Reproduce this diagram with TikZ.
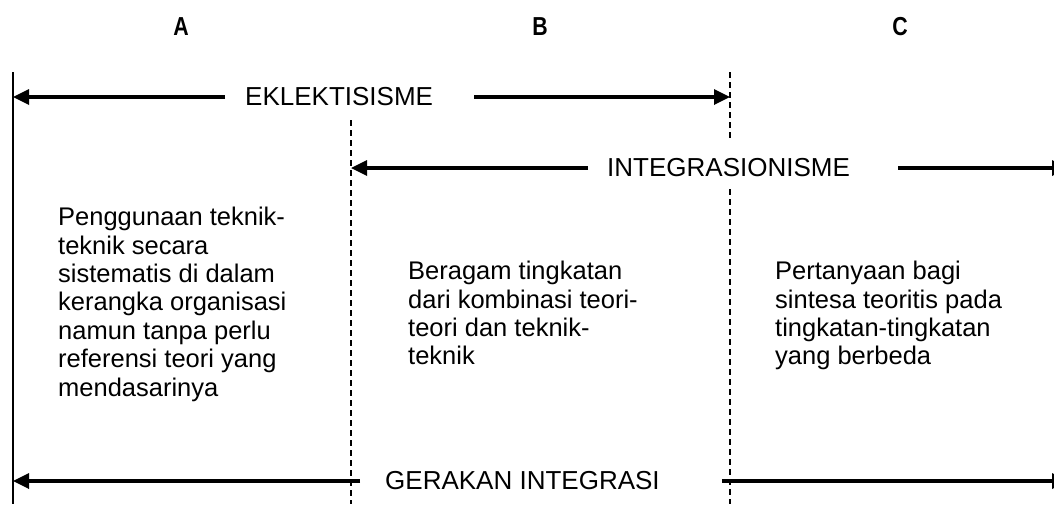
\documentclass[tikz,border=0pt]{standalone}
\usepackage{fontspec}
\setmainfont{Liberation Sans}
\usepackage{graphicx}
\usetikzlibrary{arrows.meta}
\begin{document}
\begin{tikzpicture}[x=1pt,y=-1pt,
  txt/.style={font=\fontsize{25.5}{28.4}\selectfont, inner sep=0pt, align=left, anchor=north west},
  lbl/.style={font=\fontsize{26}{30}\selectfont, inner sep=0pt, anchor=west},
  head/.style={font=\fontsize{26}{30}\selectfont\bfseries, inner sep=0pt},
  arr/.style={line width=3.3pt, -{Triangle[length=16pt,width=15pt]}},
  solidv/.style={line width=1.6pt},
  dashv/.style={line width=1.3pt, dash pattern=on 6pt off 4pt}]
\clip (0,0) rectangle (1054,504);
\fill[white] (0,0) rectangle (1054,504);

% column headers
\node[head] (A) at (181,27) {\scalebox{0.82}[1]{A}};
\node[head] (B) at (540,27) {\scalebox{0.82}[1]{B}};
\node[head] (C) at (900,27) {\scalebox{0.82}[1]{C}};

% vertical boundaries
\coordinate (v1t) at (13,72);   \coordinate (v1b) at (13,504);
\coordinate (v2t) at (351,120); \coordinate (v2b) at (351,504);
\coordinate (v3t) at (730,72);  \coordinate (v3m) at (730,140);
\coordinate (v3n) at (730,189); \coordinate (v3b) at (730,504);
\draw[solidv] (v1t) -- (v1b);
\draw[dashv] (v2t) -- (v2b);
\draw[dashv] (v3t) -- (v3m);
\draw[dashv] (v3n) -- (v3b);

% EKLEKTISISME
\node[lbl] (ek) at (245,97) {EKLEKTISISME};
\coordinate (ekL) at (13,97);
\coordinate (ekR) at (730,97);
\draw[arr] ([xshift=-20pt]ek.west) -- (ekL);
\draw[arr] ([xshift=41pt]ek.east) -- (ekR);

% INTEGRASIONISME
\node[lbl] (in) at (607,168) {INTEGRASIONISME};
\coordinate (inL) at (351,168);
\coordinate (inR) at (1068,168);
\draw[arr] ([xshift=-19pt]in.west) -- (inL);
\draw[arr] ([xshift=48pt]in.east) -- (inR);

% GERAKAN INTEGRASI
\node[lbl] (ger) at (385,481) {GERAKAN INTEGRASI};
\coordinate (gerL) at (13,481);
\coordinate (gerR) at (1068,481);
\draw[arr] ([xshift=-25pt]ger.west) -- (gerL);
\draw[arr] ([xshift=62pt]ger.east) -- (gerR);

% descriptions
\node[txt] (tA) at (58,207) {Penggunaan teknik-\\teknik secara\\sistematis di dalam\\kerangka organisasi\\namun tanpa perlu\\referensi teori yang\\mendasarinya};
\node[txt] (tB) at (408,261) {Beragam tingkatan\\dari kombinasi teori-\\teori dan teknik-\\teknik};
\node[txt] (tC) at (775,261) {Pertanyaan bagi\\sintesa teoritis pada\\tingkatan-tingkatan\\yang berbeda};
\end{tikzpicture}
\end{document}
